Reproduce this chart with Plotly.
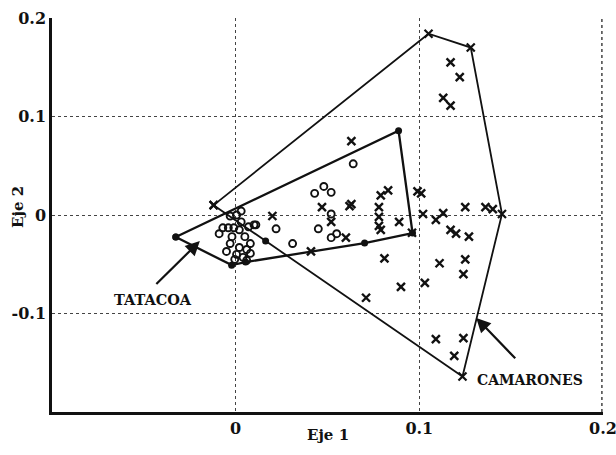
import plotly.graph_objects as go

# Camarones (x markers)
cam_x = [0.063, 0.047, 0.062, 0.063, 0.052, 0.020, 0.041, 0.060, 0.078, 0.079, 0.083, 0.099, 0.101,
         0.102, 0.089, 0.078, 0.078, 0.079, 0.109, 0.113, 0.125, 0.136, 0.140, 0.117, 0.120, 0.127,
         0.117, 0.122, 0.113, 0.117, 0.081, 0.111, 0.125, 0.124, 0.103, 0.090, 0.071, 0.109, 0.124,
         0.119, 0.096]
cam_y = [0.075, 0.008, 0.009, 0.011, -0.007, -0.001, -0.037, -0.023, 0.008, 0.020, 0.025, 0.024, 0.022,
         0.001, -0.007, -0.002, -0.011, -0.015, -0.005, 0.002, 0.008, 0.008, 0.006, -0.015, -0.019, -0.022,
         0.155, 0.140, 0.119, 0.111, -0.044, -0.049, -0.045, -0.060, -0.069, -0.073, -0.084, -0.126, -0.125,
         -0.143, -0.018]
cam_hull_x = [-0.012, 0.105, 0.128, 0.145, 0.1235, -0.012]
cam_hull_y = [0.010, 0.184, 0.170, 0.001, -0.164, 0.010]

# Tatacoa (open circles)
tat_x = [0.064, 0.043, 0.048, 0.052, 0.052, 0.045, 0.052, 0.055, 0.022, 0.031, 0.011,
         0.003, 0.0005, -0.003, 0.003, -0.007, -0.004, -0.001, -0.009, 0.002, 0.007, 0.010,
         0.005, -0.002, -0.003, 0.008, 0.002, -0.005, 0.006, 0.0005, 0.008, 0.004, -0.0005, 0.006]
tat_y = [0.052, 0.022, 0.029, 0.023, 0.001, -0.014, -0.023, -0.019, -0.014, -0.029, -0.010,
         0.004, 0.000, -0.001, -0.007, -0.013, -0.013, -0.013, -0.019, -0.015, -0.012, -0.010,
         -0.022, -0.022, -0.029, -0.029, -0.033, -0.037, -0.035, -0.040, -0.039, -0.043, -0.045, -0.046]
tat_hull_x = [-0.0326, 0.0887, 0.0963, 0.0702, 0.0054, -0.0022, -0.0326]
tat_hull_y = [-0.0224, 0.0855, -0.0183, -0.0285, -0.0478, -0.0509, -0.0224]
tat_dot_x = [0.0163]
tat_dot_y = [-0.0264]

x_ticks = [0, 0.1, 0.2]
x_labels = ["0", "0.1", "0.2"]
y_ticks = [-0.1, 0, 0.1, 0.2]
y_labels = ["-0.1", "0", "0.1", "0.2"]

FONT = "DejaVu Serif"
INK = "#111"
TICKFONT = dict(family=FONT, size=16, color=INK, weight="bold")

fig = go.Figure()
fig.add_trace(go.Scatter(x=cam_hull_x, y=cam_hull_y, mode="lines+markers",
                         line=dict(color=INK, width=1.8),
                         marker=dict(symbol="x-thin", size=8, color=INK, line=dict(width=2.2, color=INK))))
fig.add_trace(go.Scatter(x=tat_hull_x, y=tat_hull_y, mode="lines+markers",
                         line=dict(color=INK, width=2.3),
                         marker=dict(symbol="circle", size=7, color=INK)))
fig.add_trace(go.Scatter(x=cam_x, y=cam_y, mode="markers",
                         marker=dict(symbol="x-thin", size=8, color=INK, line=dict(width=2.4, color=INK))))
fig.add_trace(go.Scatter(x=tat_x, y=tat_y, mode="markers",
                         marker=dict(symbol="circle-open", size=7, color=INK, line=dict(width=1.9, color=INK))))
fig.add_trace(go.Scatter(x=tat_dot_x, y=tat_dot_y, mode="markers",
                         marker=dict(symbol="circle", size=7, color=INK)))

# dotted border line at the right edge of the plot (where the x = 0.2 gridline sits)
fig.add_shape(type="line", xref="paper", yref="paper", x0=0.998, x1=0.998, y0=0, y1=1,
              line=dict(color="#444", width=1.5, dash="dot"))

fig.add_annotation(x=-0.0195, y=-0.0265, ax=-0.044, ay=-0.0715, xref="x", yref="y",
                   axref="x", ayref="y", text="", showarrow=True, arrowhead=2,
                   arrowsize=1.3, arrowwidth=2.2, arrowcolor=INK)
fig.add_annotation(x=-0.045, y=-0.086, xref="x", yref="y", text="TATACOA", showarrow=False,
                   font=dict(family=FONT, size=14.5, color=INK, weight="bold"))
fig.add_annotation(x=0.131, y=-0.1045, ax=0.153, ay=-0.147, xref="x", yref="y",
                   axref="x", ayref="y", text="", showarrow=True, arrowhead=2,
                   arrowsize=1.3, arrowwidth=2.2, arrowcolor=INK)
fig.add_annotation(x=0.160, y=-0.168, xref="x", yref="y", text="CAMARONES", showarrow=False,
                   font=dict(family=FONT, size=14, color=INK, weight="bold"))

# last x tick label sits on the right edge of the figure; drawn as annotation so it is not hidden
fig.add_annotation(x=x_ticks[-1], y=-0.041, xref="x", yref="paper", text=x_labels[-1],
                   showarrow=False, xanchor="center", yanchor="middle", font=TICKFONT)

fig.add_annotation(x=0.5, y=-0.058, xref="paper", yref="paper", text="Eje 1", showarrow=False,
                   yanchor="middle", font=dict(family=FONT, size=15, color=INK, weight="bold"))
fig.add_annotation(x=-0.062, y=0.52, xref="paper", yref="paper", text="Eje 2", showarrow=False,
                   textangle=-90, xanchor="center", yanchor="middle",
                   font=dict(family=FONT, size=15, color=INK, weight="bold"))

axis_common = dict(showgrid=True, gridcolor="#444", griddash="dot", gridwidth=1.3,
                   zeroline=False, showline=True, linecolor=INK, linewidth=2.5,
                   ticks="", automargin=False, tickfont=TICKFONT)
fig.update_xaxes(range=[-0.1, 0.2], tickvals=x_ticks[:-1], ticktext=x_labels[:-1], **axis_common)
fig.update_yaxes(range=[-0.2, 0.2], tickvals=y_ticks, ticktext=y_labels, **axis_common)

fig.update_layout(width=616, height=455, margin=dict(l=52, r=13, t=18, b=43),
                  plot_bgcolor="white", paper_bgcolor="white", showlegend=False)
# remove the default 8px page margin so the figure sits exactly in the window
fig.write_html("out.html", config={"displayModeBar": False},
               post_script="document.body.style.margin='0';document.body.style.overflow='hidden';")
